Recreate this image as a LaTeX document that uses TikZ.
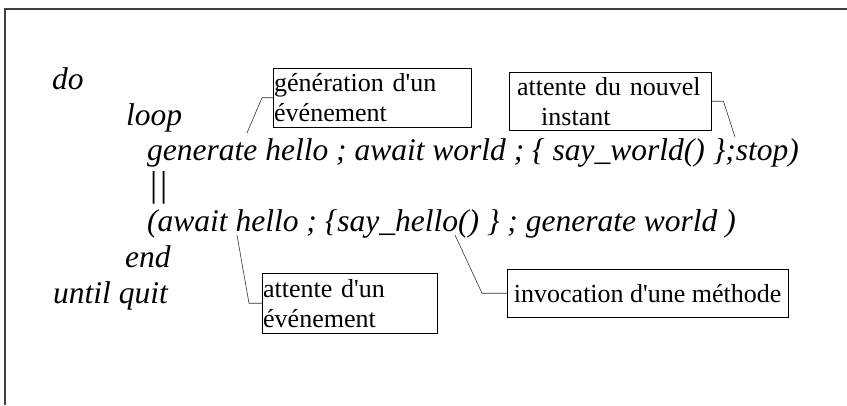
\documentclass[tikz,border=0pt]{standalone}
\usepackage{fontspec}
\setmainfont{Liberation Serif}[Ligatures=TeXOff]
\usepackage{tikz}
\usetikzlibrary{calc}

\begin{document}
\begin{tikzpicture}[x=1pt,y=-1pt,
  code/.style={anchor=base west,inner sep=0pt,font=\fontsize{31.5}{37}\selectfont\itshape},
  note/.style={draw,anchor=north west,align=left,inner ysep=0pt,font=\fontsize{26}{30}\selectfont},
  link/.style={draw=black!80,line width=0.6pt}]
\useasboundingbox (0,0) rectangle (847,405);

% Frame (only top and left edges show)
\draw[line width=1.2pt,black!75] (5,405) -- (5,9) -- (847,9);

% Program text
\node[code] (do)    at (52,89)  {do};
\node[code] (loop)  at (126,125) {loop};
\node[code] (gen)   at (147,160) {generate hello ; await world ; \{ say\_world() \};stop)};
\node[code] (par)   at (148,196) {\fontsize{36}{40}\selectfont||};
\node[code] (await) at (147,231) {(await hello ; \{say\_hello() \} ; generate world )};
\node[code] (end)   at (125,267) {end};
\node[code] (until) at (53,303)  {until quit};

% Comment boxes
\node[note,inner xsep=1pt,text width=196pt,minimum height=59pt] (genbox) at (273,68)
  {génération d'un\\événement};
\node[note,inner xsep=8pt,text width=186pt,minimum height=58pt] (instbox) at (509,72)
  {attente du nouvel\\\hspace*{24pt}instant};
\node[note,inner xsep=1pt,text width=173pt,minimum height=60pt] (awbox) at (262,273)
  {attente d'un\\événement};
\node[note,inner xsep=6pt,minimum width=281pt,minimum height=48pt] (invbox) at (507,269)
  {invocation d'une méthode};

% Where the connectors point
\coordinate (pgen)  at (247,133);
\coordinate (pinst) at (735,137);
\coordinate (paw)   at (237,235);
\coordinate (pinv)  at (455,235);

% Connectors
\draw[link] (genbox.west) -- ++(-11,0) -- (pgen);
\draw[link] (instbox.east) -- ++(12,0) -- (pinst);
\draw[link] (awbox.west) -- ++(-13,0) -- (paw);
\draw[link] (invbox.west) -- ++(-25,0) -- (pinv);
\end{tikzpicture}
\end{document}
